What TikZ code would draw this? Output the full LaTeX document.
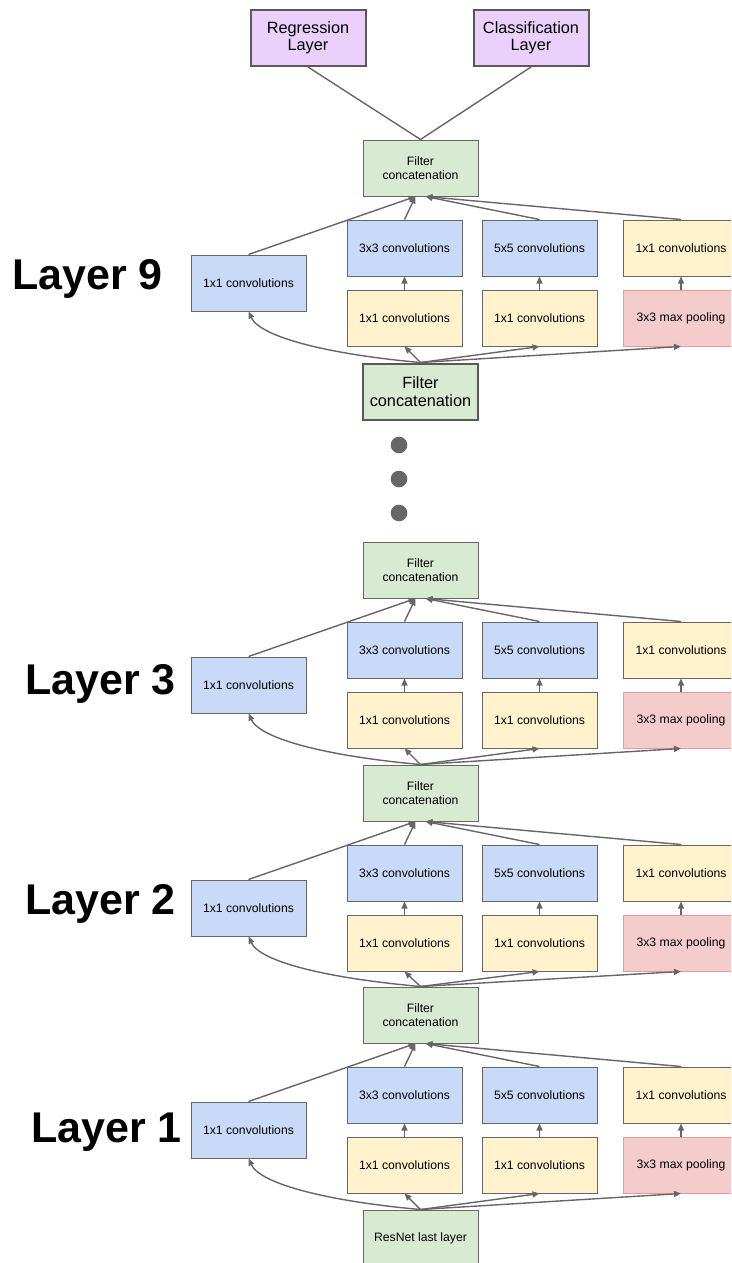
\documentclass[tikz,border=0pt]{standalone}
\usepackage{fontspec}
\setmainfont{Liberation Sans}
\usetikzlibrary{arrows.meta}

\definecolor{convblue}{HTML}{C9DAF8}
\definecolor{reduceyellow}{HTML}{FFF2CC}
\definecolor{poolred}{HTML}{F4CCCC}
\definecolor{pooledge}{HTML}{EA9999}
\definecolor{concatgreen}{HTML}{D9EAD3}
\definecolor{headpurple}{HTML}{EBD0FC}
\definecolor{edge}{HTML}{666666}
\definecolor{edgedark}{HTML}{595959}
\definecolor{wire}{HTML}{666666}

\tikzset{
  box/.style={draw=edge, line width=1pt, minimum width=115pt, minimum height=56pt,
    inner sep=0pt, align=center, font=\fontsize{12.2}{14}\selectfont},
  conv/.style={box, fill=convblue},
  reduce/.style={box, fill=reduceyellow},
  pool/.style={box, fill=poolred, draw=pooledge},
  concat/.style={box, fill=concatgreen},
  bigconcat/.style={concat, line width=2pt, draw=edgedark,
    font=\fontsize{16.3}{17.7}\selectfont},
  head/.style={box, fill=headpurple, line width=2pt, draw=edgedark,
    font=\fontsize{16.3}{17}\selectfont},
  link/.style={draw=wire, line width=1.4pt},
  flow/.style={link, -{Triangle[length=7pt,width=6pt]}},
  layerlabel/.style={anchor=base west, inner sep=0pt,
    font=\fontsize{43}{50}\selectfont\bfseries},
  dot/.style={circle, fill=wire, minimum size=16.6pt, inner sep=0pt}
}

% Four parallel branches of one inception block.
% #1 prefix, #2 top edge of the output box, #3 input node, #4 output node
\newcommand\inceptionbranches[4]{%
  \node[conv]   (#1-a)  at (248.5, #2+143) {1x1 convolutions};
  \node[conv]   (#1-b2) at (404.5, #2+108) {3x3 convolutions};
  \node[reduce] (#1-b1) at (404.5, #2+178) {1x1 convolutions};
  \node[conv]   (#1-c2) at (539.5, #2+108) {5x5 convolutions};
  \node[reduce] (#1-c1) at (539.5, #2+178) {1x1 convolutions};
  \node[reduce] (#1-d2) at (681,   #2+108) {1x1 convolutions};
  \node[pool]   (#1-d1) at (681,   #2+178) {3x3 max pooling};
  % input fan-out
  \draw[flow] (#3.north) .. controls +(-90,-8) and +(12,26) .. (#1-a.south);
  \draw[flow] (#3.north) -- (#1-b1.south);
  \draw[flow] (#3.north) -- (#1-c1.south);
  \draw[flow] (#3.north) -- (#1-d1.south);
  % reduce -> main ops
  \draw[flow] (#1-b1.north) -- (#1-b2.south);
  \draw[flow] (#1-c1.north) -- (#1-c2.south);
  \draw[flow] (#1-d1.north) -- (#1-d2.south);
  % fan-in to concatenation
  \draw[flow] (#1-a.north)  -- ([xshift=-5pt]#4.south);
  \draw[flow] (#1-b2.north) -- ([xshift=-5pt]#4.south);
  \draw[flow] (#1-c2.north) -- ([xshift=5pt]#4.south);
  \draw[flow] (#1-d2.north) -- ([xshift=5pt]#4.south);
}

\begin{document}
\begin{tikzpicture}[x=1pt, y=-1pt]
  \useasboundingbox (0,0) rectangle (731,1263);
  \clip (0,0) rectangle (731,1263);

  % output heads
  \node[head] (reg) at (308, 38) {Regression\\Layer};
  \node[head] (cls) at (531, 38) {Classification\\Layer};

  % concatenation nodes between blocks
  \node[concat]    (L9-out) at (420.5, 168)    {Filter\\concatenation};
  \node[bigconcat] (L9-in)  at (420.5, 391.5)  {Filter\\concatenation};
  \node[concat]    (L3-out) at (420.5, 570)    {Filter\\concatenation};
  \node[concat]    (L2-out) at (420.5, 793)    {Filter\\concatenation};
  \node[concat]    (L1-out) at (420.5, 1015)   {Filter\\concatenation};
  \node[concat]    (L1-in)  at (420.5, 1238)   {ResNet last layer};

  \draw[link] (reg.south) -- (L9-out.north);
  \draw[link] (cls.south) -- (L9-out.north);

  \inceptionbranches{L9}{140}{L9-in}{L9-out}
  \inceptionbranches{L3}{542}{L2-out}{L3-out}
  \inceptionbranches{L2}{765}{L1-out}{L2-out}
  \inceptionbranches{L1}{987}{L1-in}{L1-out}

  % elided layers
  \node[dot] (d1) at (399, 445) {};
  \node[dot] (d2) at (399, 479) {};
  \node[dot] (d3) at (399, 513) {};

  % layer captions
  \node[layerlabel] (t9) at (12, 289)  {Layer 9};
  \node[layerlabel] (t3) at (25, 694)  {Layer 3};
  \node[layerlabel] (t2) at (25, 914)  {Layer 2};
  \node[layerlabel] (t1) at (31, 1142) {Layer 1};
\end{tikzpicture}
\end{document}
